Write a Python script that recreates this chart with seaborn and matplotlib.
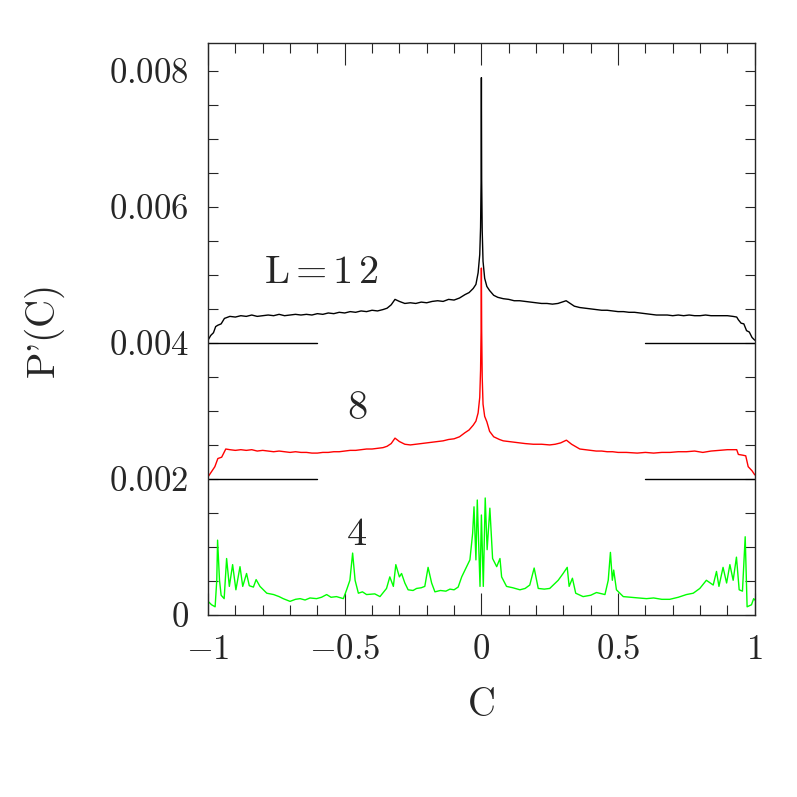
import matplotlib
matplotlib.use("Agg")
import matplotlib.pyplot as plt
import seaborn as sns
import pandas as pd
from matplotlib.ticker import MultipleLocator, FixedLocator, FixedFormatter

# ------------------------------------------------------------------
# data (raw P'(C), before vertical shift)
# ------------------------------------------------------------------
c_12 = [-1.0, -0.99, -0.98, -0.972, -0.964, -0.952, -0.94, -0.92, -0.90, -0.88,
        -0.86, -0.84, -0.82, -0.80, -0.78, -0.76, -0.74, -0.72, -0.70, -0.68,
        -0.66, -0.64, -0.62, -0.60, -0.58, -0.56, -0.54, -0.52, -0.50, -0.48,
        -0.46, -0.44, -0.42, -0.40, -0.38, -0.36, -0.345, -0.33, -0.316, -0.30,
        -0.28, -0.26, -0.24, -0.22, -0.20, -0.18, -0.16, -0.14, -0.12, -0.10,
        -0.08, -0.06, -0.045, -0.03, -0.02, -0.012, -0.006, -0.003, -0.001, 0.0,
        0.001, 0.003, 0.006, 0.012, 0.02, 0.03, 0.045, 0.06, 0.08, 0.10,
        0.12, 0.14, 0.16, 0.18, 0.20, 0.22, 0.24, 0.26, 0.28, 0.295,
        0.31, 0.325, 0.34, 0.36, 0.38, 0.40, 0.42, 0.44, 0.46, 0.48,
        0.50, 0.52, 0.54, 0.56, 0.58, 0.60, 0.62, 0.64, 0.66, 0.68,
        0.70, 0.72, 0.74, 0.76, 0.78, 0.80, 0.82, 0.84, 0.86, 0.88,
        0.90, 0.92, 0.934, 0.94, 0.95, 0.96, 0.97, 0.98, 0.99, 1.0]
p_12 = [0.00004, 0.00011, 0.00015, 0.00024, 0.00026, 0.00028, 0.00036, 0.00039, 0.00038, 0.00040,
        0.00039, 0.00041, 0.00039, 0.00040, 0.00041, 0.00040, 0.00042, 0.00040, 0.00041, 0.00042,
        0.00041, 0.00042, 0.00041, 0.00043, 0.00042, 0.00044, 0.00043, 0.00045, 0.00044, 0.00046,
        0.00045, 0.00047, 0.00046, 0.00048, 0.00047, 0.00049, 0.00051, 0.00056, 0.00064, 0.00061,
        0.00058, 0.00059, 0.00058, 0.00060, 0.00059, 0.00061, 0.00062, 0.00061, 0.00064, 0.00063,
        0.00066, 0.00071, 0.00074, 0.00080, 0.00086, 0.00103, 0.00130, 0.00170, 0.00240, 0.00390,
        0.00240, 0.00165, 0.00120, 0.00095, 0.00083, 0.00077, 0.00070, 0.00067, 0.00065, 0.00064,
        0.00062, 0.00062, 0.00061, 0.00060, 0.00059, 0.00058, 0.00058, 0.00057, 0.00058, 0.00060,
        0.00062, 0.00058, 0.00054, 0.00052, 0.00051, 0.00050, 0.00049, 0.00048, 0.00048, 0.00047,
        0.00046, 0.00046, 0.00045, 0.00045, 0.00044, 0.00043, 0.00042, 0.00041, 0.00041, 0.00041,
        0.00040, 0.00041, 0.00040, 0.00041, 0.00040, 0.00040, 0.00041, 0.00040, 0.00040, 0.00040,
        0.00040, 0.00039, 0.00038, 0.00034, 0.00029, 0.00028, 0.00018, 0.00016, 0.00008, 0.00004]

c_8 = [-1.0, -0.99, -0.975, -0.964, -0.95, -0.935, -0.92, -0.90, -0.88, -0.86,
       -0.84, -0.82, -0.80, -0.78, -0.76, -0.74, -0.72, -0.70, -0.68, -0.66,
       -0.64, -0.62, -0.60, -0.58, -0.56, -0.54, -0.52, -0.50, -0.48, -0.46,
       -0.44, -0.42, -0.40, -0.38, -0.36, -0.345, -0.33, -0.316, -0.30, -0.28,
       -0.26, -0.24, -0.22, -0.20, -0.18, -0.16, -0.14, -0.12, -0.10, -0.08,
       -0.06, -0.045, -0.03, -0.02, -0.012, -0.006, -0.003, -0.001, 0.0, 0.001,
       0.003, 0.006, 0.012, 0.02, 0.03, 0.045, 0.066, 0.08, 0.10, 0.12,
       0.14, 0.16, 0.19, 0.22, 0.25, 0.27, 0.29, 0.311, 0.33, 0.36,
       0.38, 0.40, 0.42, 0.44, 0.46, 0.48, 0.50, 0.53, 0.57, 0.60,
       0.63, 0.66, 0.69, 0.72, 0.75, 0.78, 0.81, 0.84, 0.87, 0.90,
       0.92, 0.934, 0.94, 0.955, 0.967, 0.976, 0.99, 1.0]
p_8 = [0.00003, 0.00009, 0.00018, 0.00030, 0.00032, 0.00044, 0.00043, 0.00042, 0.00043, 0.00042,
       0.00043, 0.00041, 0.00042, 0.00041, 0.00040, 0.00041, 0.00040, 0.00039, 0.00040, 0.00039,
       0.00039, 0.00038, 0.00038, 0.00039, 0.00039, 0.00040, 0.00040, 0.00041, 0.00042, 0.00042,
       0.00043, 0.00044, 0.00044, 0.00045, 0.00046, 0.00048, 0.00052, 0.00060, 0.00055, 0.00051,
       0.00050, 0.00051, 0.00052, 0.00053, 0.00054, 0.00055, 0.00056, 0.00058, 0.00059, 0.00062,
       0.00068, 0.00072, 0.00079, 0.00085, 0.00097, 0.00120, 0.00160, 0.00220, 0.00310, 0.00220,
       0.00150, 0.00110, 0.00092, 0.00084, 0.00070, 0.00062, 0.00058, 0.00056, 0.00055, 0.00054,
       0.00053, 0.00052, 0.00051, 0.00051, 0.00050, 0.00051, 0.00053, 0.00057, 0.00051, 0.00044,
       0.00043, 0.00042, 0.00041, 0.00041, 0.00040, 0.00040, 0.00039, 0.00039, 0.00038, 0.00039,
       0.00038, 0.00039, 0.00039, 0.00040, 0.00040, 0.00041, 0.00039, 0.00041, 0.00042, 0.00043,
       0.00043, 0.00043, 0.00036, 0.00035, 0.00034, 0.00018, 0.00012, 0.00006]

c_4 = [-1.0, -0.987, -0.974, -0.968, -0.965, -0.958, -0.952, -0.941, -0.932, -0.922,
       -0.91, -0.898, -0.883, -0.873, -0.859, -0.849, -0.834, -0.824, -0.81, -0.795,
       -0.785, -0.76, -0.74, -0.725, -0.70, -0.68, -0.663, -0.645, -0.627, -0.603,
       -0.585, -0.566, -0.55, -0.53, -0.505, -0.493, -0.481, -0.471, -0.462, -0.45,
       -0.435, -0.42, -0.39, -0.371, -0.347, -0.335, -0.322, -0.313, -0.30, -0.292,
       -0.28, -0.268, -0.25, -0.237, -0.22, -0.207, -0.195, -0.182, -0.17, -0.15,
       -0.13, -0.115, -0.10, -0.085, -0.072, -0.06, -0.042, -0.032, -0.027, -0.02,
       -0.015, -0.005, 0.0, 0.007, 0.014, 0.021, 0.031, 0.041, 0.056, 0.068,
       0.074, 0.092, 0.115, 0.141, 0.16, 0.177, 0.193, 0.208, 0.23, 0.25,
       0.281, 0.299, 0.314, 0.321, 0.333, 0.345, 0.372, 0.40, 0.421, 0.452,
       0.464, 0.472, 0.479, 0.484, 0.494, 0.519, 0.545, 0.575, 0.604, 0.63,
       0.66, 0.689, 0.72, 0.75, 0.775, 0.799, 0.823, 0.848, 0.86, 0.869,
       0.884, 0.897, 0.909, 0.921, 0.933, 0.943, 0.955, 0.965, 0.972, 0.988,
       0.996, 1.0]
p_4 = [0.00020, 0.00015, 0.00012, 0.00051, 0.00110, 0.00051, 0.00029, 0.00024, 0.00083, 0.00042,
       0.00074, 0.00037, 0.00071, 0.00042, 0.00061, 0.00043, 0.00041, 0.00052, 0.00042, 0.00036,
       0.00032, 0.00030, 0.00027, 0.00024, 0.00020, 0.00023, 0.00024, 0.00022, 0.00025, 0.00024,
       0.00026, 0.00030, 0.00026, 0.00027, 0.00024, 0.00037, 0.00051, 0.00091, 0.00051, 0.00032,
       0.00034, 0.00030, 0.00031, 0.00027, 0.00039, 0.00056, 0.00042, 0.00074, 0.00056, 0.00061,
       0.00047, 0.00037, 0.00036, 0.00039, 0.00040, 0.00042, 0.00070, 0.00047, 0.00034, 0.00036,
       0.00035, 0.00038, 0.00037, 0.00041, 0.00056, 0.00066, 0.00081, 0.00120, 0.00159, 0.00081,
       0.00169, 0.00042, 0.00147, 0.00042, 0.00172, 0.00096, 0.00157, 0.00083, 0.00071, 0.00083,
       0.00056, 0.00042, 0.00040, 0.00037, 0.00039, 0.00044, 0.00069, 0.00039, 0.00038, 0.00039,
       0.00051, 0.00061, 0.00070, 0.00042, 0.00054, 0.00032, 0.00027, 0.00029, 0.00033, 0.00030,
       0.00051, 0.00092, 0.00051, 0.00066, 0.00037, 0.00027, 0.00026, 0.00025, 0.00024, 0.00025,
       0.00023, 0.00023, 0.00026, 0.00030, 0.00032, 0.00039, 0.00051, 0.00044, 0.00064, 0.00042,
       0.00070, 0.00047, 0.00074, 0.00051, 0.00085, 0.00037, 0.00035, 0.00115, 0.00012, 0.00015,
       0.00024, 0.00022]

sizes = ["L=12", "8", "4"]
shifts = [0.004, 0.002, 0.0]
colors = ["black", "#ff0000", "#00ff00"]

# base-line segments drawn under the shifted curves
base_left = [-1.0, -0.6]
base_right = [0.6, 1.0]

xtick_major = [-1.0, -0.5, 0.0, 0.5, 1.0]
xtick_labels = ["$-1$", "$-0.5$", "$0$", "$0.5$", "$1$"]
ytick_major = [0.0, 0.002, 0.004, 0.006, 0.008]
ytick_labels = ["$0$", "$0.002$", "$0.004$", "$0.006$", "$0.008$"]

# ------------------------------------------------------------------
# style
# ------------------------------------------------------------------
sns.set_style("ticks")
plt.rcParams["font.family"] = ["cmr10", "DejaVu Serif"]
plt.rcParams["mathtext.fontset"] = "cm"
plt.rcParams["axes.unicode_minus"] = False

fig = plt.figure(figsize=(7.97, 7.97), dpi=100)
ax = fig.add_axes([0.261, 0.2284, 0.686, 0.7177])

curves = [(c_12, p_12), (c_8, p_8), (c_4, p_4)]
for (cx, py), shift, col in zip(curves, shifts, colors):
    df = pd.DataFrame({"C": cx, "P": [v + shift for v in py]})
    sns.lineplot(data=df, x="C", y="P", color=col, lw=1.0, sort=False,
                 estimator=None, ax=ax)

for shift in shifts[:2]:
    for seg in (base_left, base_right):
        sns.lineplot(x=seg, y=[shift, shift], color="black", lw=1.0,
                     estimator=None, ax=ax)

# curve labels
ax.text(-0.587, 0.00502, r"L$\,$=$\,$1$\,$2", fontsize=29, ha="center", va="center")
ax.text(-0.455, 0.00302, sizes[1], fontsize=29, ha="center", va="center")
ax.text(-0.455, 0.00118, sizes[2], fontsize=29, ha="center", va="center")

ax.set_xlim(-1, 1)
ax.set_ylim(0, 0.00841)

ax.xaxis.set_major_locator(FixedLocator(xtick_major))
ax.xaxis.set_major_formatter(FixedFormatter(xtick_labels))
ax.xaxis.set_minor_locator(MultipleLocator(0.1))
ax.yaxis.set_major_locator(FixedLocator(ytick_major))
ax.yaxis.set_major_formatter(FixedFormatter(ytick_labels))
ax.yaxis.set_minor_locator(MultipleLocator(0.0005))

ax.tick_params(which="both", direction="in", top=True, right=True, width=0.8,
               labelsize=25)
ax.tick_params(axis="x", which="major", length=16, pad=14)
ax.tick_params(axis="x", which="minor", length=7)
ax.tick_params(axis="y", which="both", length=7, pad=14)
for s in ax.spines.values():
    s.set_linewidth(1.0)

ax.set_xlabel("C", fontsize=28, labelpad=16)
ax.set_ylabel("P'(C)", fontsize=28, labelpad=32)

fig.savefig("out.png", dpi=100)
